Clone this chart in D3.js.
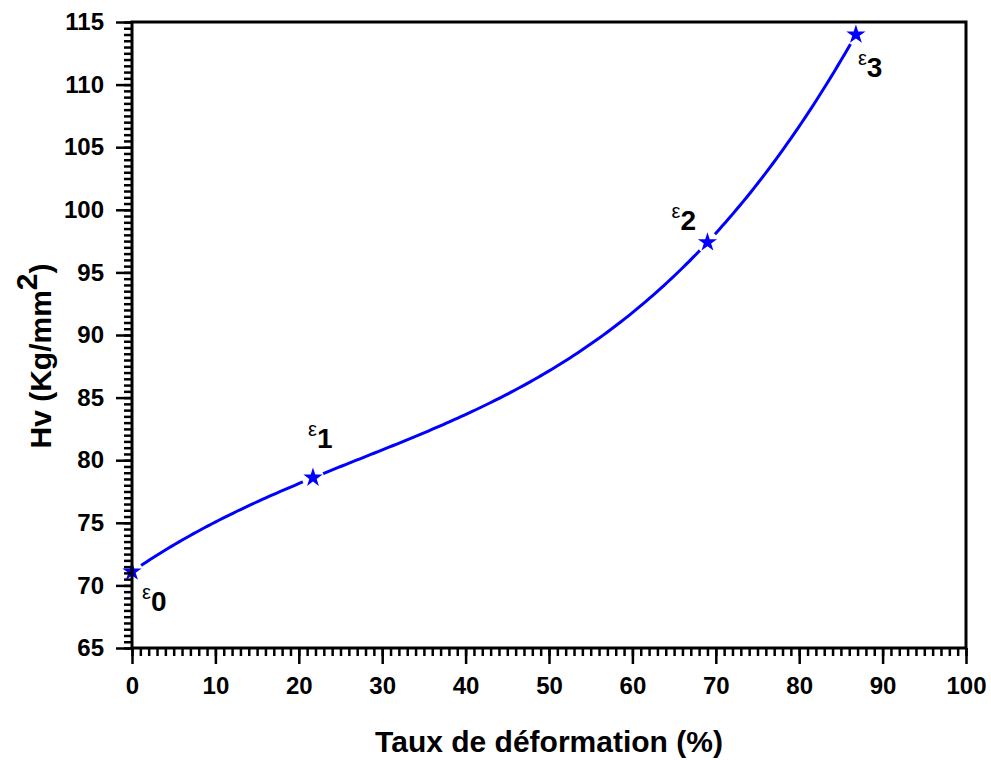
<!DOCTYPE html>
<html>
<head>
<meta charset="utf-8">
<script src="https://cdn.jsdelivr.net/npm/d3@7"></script>
<style>
  body { margin: 0; background: #fff; }
  text { font-family: "Liberation Sans", Arial, sans-serif; font-weight: bold; }
</style>
</head>
<body>
<div id="chart-area"></div>
<script>
// deformation rate (%) and Vickers hardness
var taux = [0, 21.7, 69.0, 86.8];
var hv = [71.1, 78.6, 97.4, 114.0];
var labels = ["0", "1", "2", "3"];
var xTicks = [0, 10, 20, 30, 40, 50, 60, 70, 80, 90, 100];
var yTicks = [65, 70, 75, 80, 85, 90, 95, 100, 105, 110, 115];

var W = 991, H = 760;
var m = {left: 132, right: 25, top: 22, bottom: 112};

var svg = d3.select("#chart-area").append("svg")
    .attr("width", W)
    .attr("height", H);

var x = d3.scaleLinear().domain([0, 100]).range([m.left, W - m.right]);
var y = d3.scaleLinear().domain([65, 115]).range([H - m.bottom, m.top]);

var pts = taux.map(function(d, i){ return [d, hv[i]]; });

// custom curve: one polynomial through all the points (like the original)
function curvePoly(context) {
    var p = [];
    return {
        areaStart: function(){}, areaEnd: function(){},
        lineStart: function(){ p = []; },
        point: function(a, b){ p.push([+a, +b]); },
        lineEnd: function(){
            var n = p.length, steps = 200;
            var x0 = p[0][0], x1 = p[n - 1][0];
            for (var s = 0; s <= steps; s++) {
                var t = x0 + (x1 - x0) * s / steps, v = 0;
                for (var i = 0; i < n; i++) {
                    var l = 1;
                    for (var j = 0; j < n; j++) {
                        if (j !== i) l *= (t - p[j][0]) / (p[i][0] - p[j][0]);
                    }
                    v += p[i][1] * l;
                }
                if (s === 0) context.moveTo(t, v); else context.lineTo(t, v);
            }
        }
    };
}

// gaps in the line around the symbols
var mask = svg.append("defs").append("mask").attr("id", "gaps");
mask.append("rect").attr("width", W).attr("height", H).attr("fill", "white");
mask.selectAll("circle").data(pts).enter().append("circle")
    .attr("cx", function(d){ return x(d[0]); })
    .attr("cy", function(d){ return y(d[1]); })
    .attr("r", 11)
    .attr("fill", "black");

var line = d3.line()
    .x(function(d){ return x(d[0]); })
    .y(function(d){ return y(d[1]); })
    .curve(curvePoly);

svg.append("path")
    .datum(pts)
    .attr("d", line)
    .attr("fill", "none")
    .attr("stroke", "#0000ff")
    .attr("stroke-width", 3)
    .attr("mask", "url(#gaps)");

svg.selectAll(".star").data(pts).enter().append("path")
    .attr("class", "star")
    .attr("transform", function(d){ return "translate(" + x(d[0]) + "," + y(d[1]) + ")"; })
    .attr("d", d3.symbol().type(d3.symbolStar).size(115))
    .attr("fill", "#0000ff");

// axes
var bottom = svg.append("g")
    .attr("transform", "translate(0," + (H - m.bottom) + ")");
bottom.call(d3.axisBottom(x).tickValues(d3.range(0, 101, 1)).tickSize(8).tickFormat(""));
bottom.append("g").call(d3.axisBottom(x).tickValues(xTicks).tickSize(16).tickPadding(13));

var left = svg.append("g")
    .attr("transform", "translate(" + m.left + ",0)");
left.call(d3.axisLeft(y).tickValues(d3.range(65, 115.01, 0.5)).tickSize(8).tickFormat(""));
left.append("g").call(d3.axisLeft(y).tickValues(yTicks).tickSize(16).tickPadding(12));

svg.selectAll(".domain").remove();
svg.selectAll(".tick line").attr("stroke", "#000").attr("stroke-width", 2.5);
svg.selectAll(".tick text")
    .attr("fill", "#000")
    .style("font-size", "24px")
    .style("font-family", "'Liberation Sans', Arial, sans-serif")
    .style("font-weight", "bold");

svg.append("rect")
    .attr("x", m.left)
    .attr("y", m.top)
    .attr("width", W - m.right - m.left)
    .attr("height", H - m.bottom - m.top)
    .attr("fill", "none")
    .attr("stroke", "#000")
    .attr("stroke-width", 3);

// point labels
var offs = [[10, 27], [-5, -42], [-36, -24], [2, 30]];
var lab = svg.selectAll(".lab").data(pts).enter().append("text")
    .attr("class", "lab")
    .attr("x", function(d, i){ return x(d[0]) + offs[i][0]; })
    .attr("y", function(d, i){ return y(d[1]) + offs[i][1]; });
lab.append("tspan").style("font-size", "20px").style("font-weight", "normal").text("ε");
lab.append("tspan").style("font-size", "28px").attr("dy", 12).text(function(d, i){ return labels[i]; });

// axis titles
svg.append("text")
    .attr("x", (m.left + W - m.right) / 2)
    .attr("y", 752)
    .attr("text-anchor", "middle")
    .style("font-size", "30px")
    .text("Taux de déformation (%)");

var yl = svg.append("text")
    .attr("transform", "translate(51,356) rotate(-90)")
    .attr("text-anchor", "middle")
    .style("font-size", "30px");
yl.append("tspan").text("Hv (Kg/mm");
yl.append("tspan").attr("dy", -14).text("2");
yl.append("tspan").attr("dy", 14).text(")");
</script>
</body>
</html>
